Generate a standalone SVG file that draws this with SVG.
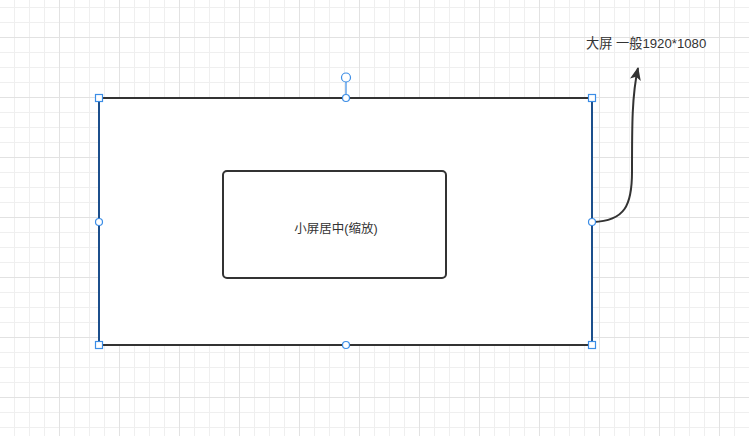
<svg xmlns="http://www.w3.org/2000/svg" width="749" height="436" viewBox="0 0 749 436">
<defs>
<pattern id="minor" width="15" height="15" patternUnits="userSpaceOnUse" x="-1" y="7">
<path d="M0 0.5H15M0.5 0V15" fill="none" stroke="#efefef" stroke-width="1"/>
</pattern>
<pattern id="major" width="60" height="60" patternUnits="userSpaceOnUse" x="-1" y="37">
<path d="M0 0.5H60M0.5 0V60" fill="none" stroke="#e2e2e2" stroke-width="1"/>
</pattern>
<marker id="arr" viewBox="0 0 14 14" refX="12" refY="7" markerWidth="14" markerHeight="14" markerUnits="userSpaceOnUse" orient="auto">
<path d="M0 1.5 L13 7 L0 12.5 L3 7 Z" fill="#333"/>
</marker>
</defs>
<style>
.lbl{font-family:"Liberation Sans","Noto Sans CJK SC",sans-serif;font-size:12.5px;fill:#333}
.big{font-size:13.2px}
.shape{fill:#fff;stroke:#333;stroke-width:2}
.h{fill:#fff;stroke:#3b8de6;stroke-width:1.2}
</style>
<rect width="749" height="436" fill="#fff"/>
<rect width="749" height="436" fill="url(#minor)"/>
<rect width="749" height="436" fill="url(#major)"/>
<g id="big-screen">
<rect class="shape" x="99" y="98" width="493" height="247"/>
<path d="M99 98V345M592 98V345" stroke="#1c4f8c" stroke-width="2" fill="none"/>
</g>
<g id="small-screen">
<rect class="shape" x="223" y="171" width="223" height="107" rx="4"/>
<text class="lbl" x="336" y="233" text-anchor="middle">小屏居中(缩放)</text>
</g>
<g id="label">
<text class="lbl big" x="586" y="48">大屏 一般1920*1080</text>
</g>
<g id="connectors">
<path d="M593 222 C625 221, 632 205, 632 172 C632 125, 632 95, 638 68" fill="none" stroke="#333" stroke-width="2" marker-end="url(#arr)"/>
</g>
<g id="selection">
<line x1="346" y1="82" x2="346" y2="94" stroke="#3b8de6" stroke-width="1.2"/>
<circle class="h" cx="346" cy="77.5" r="4.5"/>
<rect class="h" x="95.5" y="94.5" width="7" height="7"/>
<rect class="h" x="588.5" y="94.5" width="7" height="7"/>
<rect class="h" x="95.5" y="341.5" width="7" height="7"/>
<rect class="h" x="588.5" y="341.5" width="7" height="7"/>
<circle class="h" cx="346" cy="98" r="3.5"/>
<circle class="h" cx="346" cy="345" r="3.5"/>
<circle class="h" cx="99" cy="222" r="3.5"/>
<circle class="h" cx="592" cy="222" r="3.5"/>
</g>
</svg>
